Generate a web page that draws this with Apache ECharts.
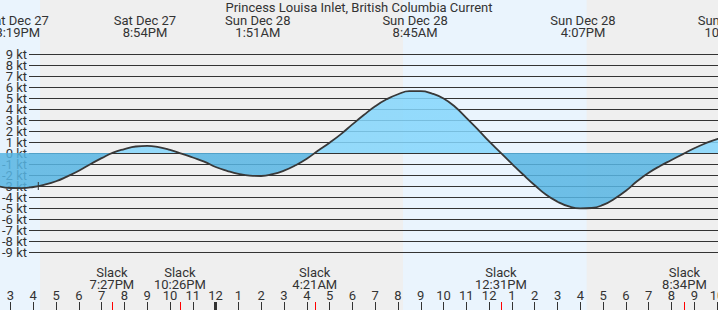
<!DOCTYPE html>
<html>
<head>
<meta charset="utf-8">
<script src="https://cdn.jsdelivr.net/npm/echarts@6/dist/echarts.min.js"></script>
<style>
html,body{margin:0;padding:0;background:#efefef;}
#chart{width:718px;height:310px;}
</style>
</head>
<body>
<div id="chart"></div>
<script>
// Time unit: hours since Sat Dec 27 00:00 (local time)
const chartTitle = 'Princess Louisa Inlet, British Columbia Current';
const viewStart = 14.54;   // ~2:32 PM Sat
const viewEnd = 46.04;     // ~10:02 PM Sun

// Current speed (kt), flood positive / ebb negative, every half hour
const currentTimes = [14.5, 15, 15.5, 16, 16.5, 17, 17.5, 18, 18.5, 19, 19.5, 20, 20.5, 21, 21.5, 22, 22.5,
  23, 23.5, 24, 24.5, 25, 25.5, 26, 26.5, 27, 27.5, 28, 28.5, 29, 29.5, 30, 30.5,
  31, 31.5, 32, 32.5, 33, 33.5, 34, 34.5, 35, 35.5, 36, 36.5, 37, 37.5, 38, 38.5,
  39, 39.5, 40, 40.5, 41, 41.5, 42, 42.5, 43, 43.5, 44, 44.5, 45, 45.5, 46, 46.5];
const currentKnots = [-3.04, -3.18, -3.19, -3.09, -2.88, -2.57, -2.12, -1.62, -1.02, -0.47, 0.04, 0.36, 0.59, 0.65, 0.53, 0.28, -0.05,
  -0.41, -0.78, -1.27, -1.62, -1.9, -2.06, -2.09, -1.93, -1.6, -1.12, -0.52, 0.22, 0.94, 1.72, 2.6, 3.45,
  4.25, 4.88, 5.34, 5.62, 5.62, 5.4, 4.95, 4.2, 3.2, 2.15, 1.05, 0.04, -0.98, -1.98, -2.93, -3.8,
  -4.43, -4.86, -5.04, -5.0, -4.72, -4.15, -3.43, -2.55, -1.8, -1.18, -0.64, -0.1, 0.43, 0.89, 1.27, 1.52];

// Max flood / ebb events (top labels)
const peakTimes = [15.317, 20.9, 25.85, 32.75, 40.117, 46.583];
const peakDates = ['Sat Dec 27', 'Sat Dec 27', 'Sun Dec 28', 'Sun Dec 28', 'Sun Dec 28', 'Sun Dec 28'];
const peakClock = ['3:19PM', '8:54PM', '1:51AM', '8:45AM', '4:07PM', '10:35PM'];

// Slack water events (bottom labels, red ticks)
const slackTimes = [19.45, 22.433, 28.35, 36.517, 44.567];
const slackClock = ['7:27PM', '10:26PM', '4:21AM', '12:31PM', '8:34PM'];

// Hour ticks along the bottom
const hourTicks = [15, 16, 17, 18, 19, 20, 21, 22, 23, 24, 25, 26, 27, 28, 29, 30,
  31, 32, 33, 34, 35, 36, 37, 38, 39, 40, 41, 42, 43, 44, 45, 46];
const hourLabels = ['3', '4', '5', '6', '7', '8', '9', '10', '11', '12', '1', '2', '3', '4', '5', '6',
  '7', '8', '9', '10', '11', '12', '1', '2', '3', '4', '5', '6', '7', '8', '9', '10'];
const midnightTicks = [24];

// Speed gridlines / labels
const ktTicks = [-9, -8, -7, -6, -5, -4, -3, -2, -1, 0, 1, 2, 3, 4, 5, 6, 7, 8, 9];
const ktLabels = ['-9 kt', '-8 kt', '-7 kt', '-6 kt', '-5 kt', '-4 kt', '-3 kt', '-2 kt', '-1 kt', '0 kt',
  '1 kt', '2 kt', '3 kt', '4 kt', '5 kt', '6 kt', '7 kt', '8 kt', '9 kt'];

// Daylight periods (sunrise, sunset)
const daylight = [[8.22, 16.30], [32.22, 40.28]];

// Current-time marker
const nowTime = [16.22];
const nowKnots = [-3.0];

// ---------- layout (pixels) ----------
const W = 718, H = 310;
const gridTopPx = 54, gridBottomPx = 252;   // rows of +9 kt and -9 kt lines
const pxPerKt = (gridBottomPx - gridTopPx) / 18;
const yMaxFull = 9 + gridTopPx / pxPerKt;
const yMinFull = -9 - (H - gridBottomPx) / pxPerKt;

const FONT = 'Roboto';
const TXT = '#333';
const POS = '#84d6fc';
const NEG = '#57b5e3';

function lookup(vals, labels, v) {
  let best = 0, bd = Infinity;
  vals.forEach((x, i) => { const d = Math.abs(x - v); if (d < bd) { bd = d; best = i; } });
  return labels[best];
}

// split labels in two alternating sets so the axis never drops any as "overlapping"
const ktOdd = ktTicks.filter((v, i) => i % 2 === 0);
const ktEven = ktTicks.filter((v, i) => i % 2 === 1);

const chart = echarts.init(document.getElementById('chart'), null, {renderer: 'svg', width: W, height: H});

const baseX = {type: 'value', min: viewStart, max: viewEnd, scale: true,
  splitLine: {show: false}, axisLine: {show: false, onZero: false}};

const ktLabelStyle = {margin: 2, fontFamily: FONT, fontSize: 13, color: TXT, lineHeight: 11,
  showMinLabel: true, showMaxLabel: true, hideOverlap: false,
  formatter: v => lookup(ktTicks, ktLabels, v)};

chart.setOption({
  backgroundColor: '#efefef',
  animation: false,
  title: {
    text: chartTitle, left: 'center', top: 1, padding: 0,
    textStyle: {fontFamily: FONT, fontSize: 13, fontWeight: 'normal', color: TXT, lineHeight: 13}
  },
  grid: [
    {left: 0, right: 0, top: 0, bottom: 0, containLabel: false, outerBoundsMode: 'none'},
    {left: 29, right: 0, top: gridTopPx, bottom: H - gridBottomPx, containLabel: false, outerBoundsMode: 'none'}
  ],
  xAxis: [
    Object.assign({}, baseX, {
      gridIndex: 0, position: 'bottom',
      axisTick: {show: true, inside: true, length: 8, customValues: hourTicks, lineStyle: {color: TXT, width: 1}},
      axisLabel: {show: true, inside: true, margin: 9, customValues: hourTicks,
        showMinLabel: true, showMaxLabel: true, hideOverlap: false,
        formatter: v => lookup(hourTicks, hourLabels, v),
        fontFamily: FONT, fontSize: 13, color: TXT, lineHeight: 11}
    }),
    Object.assign({}, baseX, {
      gridIndex: 0, position: 'bottom',
      axisTick: {show: true, inside: true, length: 8, customValues: slackTimes, lineStyle: {color: '#ff0000', width: 1}},
      axisLabel: {show: true, inside: true, margin: 20, customValues: slackTimes,
        showMinLabel: true, showMaxLabel: true, hideOverlap: false,
        formatter: v => 'Slack\n' + lookup(slackTimes, slackClock, v),
        fontFamily: FONT, fontSize: 13, color: TXT, lineHeight: 12, align: 'center'}
    }),
    Object.assign({}, baseX, {
      gridIndex: 0, position: 'bottom',
      axisTick: {show: true, inside: true, length: 8, customValues: midnightTicks, lineStyle: {color: TXT, width: 3}},
      axisLabel: {show: false}
    }),
    Object.assign({}, baseX, {gridIndex: 1, show: false})
  ],
  yAxis: [
    {type: 'value', gridIndex: 0, min: yMinFull, max: yMaxFull, scale: true, show: false, splitLine: {show: false}},
    {type: 'value', gridIndex: 1, min: -9, max: 9, interval: 1, position: 'left',
      axisLine: {show: false}, axisTick: {show: false},
      axisLabel: Object.assign({customValues: ktOdd}, ktLabelStyle),
      splitLine: {show: true, lineStyle: {color: TXT, width: 1}}
    },
    {type: 'value', gridIndex: 1, min: -9, max: 9, interval: 1, position: 'left', offset: 0,
      axisLine: {show: false}, axisTick: {show: false},
      axisLabel: Object.assign({customValues: ktEven}, ktLabelStyle),
      splitLine: {show: false}
    }
  ],
  visualMap: {
    show: false, seriesIndex: 0, dimension: 1,
    pieces: [{gte: -20, lt: 0, color: NEG}, {gte: 0, lte: 20, color: POS}]
  },
  series: [
    {
      type: 'line', xAxisIndex: 0, yAxisIndex: 0,
      data: currentTimes.map((t, i) => [t, currentKnots[i]]),
      smooth: 0.5, showSymbol: false, silent: true, z: 2,
      lineStyle: {color: '#383838', width: 1.8},
      areaStyle: {opacity: 0.85},
      markPoint: {
        silent: true, symbol: 'rect', symbolSize: [1, 8],
        itemStyle: {color: '#333'}, label: {show: false},
        data: nowTime.map((t, i) => ({coord: [t, nowKnots[i]]}))
      }
    },
    {
      type: 'line', xAxisIndex: 0, yAxisIndex: 0, z: -1, silent: true,
      data: [[viewStart, 0]], showSymbol: false, lineStyle: {width: 0, opacity: 0},
      markArea: {
        silent: true, z: -1, itemStyle: {color: '#eaf4fd'},
        data: daylight.map(d => [{xAxis: d[0]}, {xAxis: d[1]}])
      }
    }
  ]
});

const topLabels = peakTimes.map((t, i) => ({
  type: 'text', silent: true,
  x: chart.convertToPixel({xAxisIndex: 0}, t),
  y: 14,
  style: {
    text: peakDates[i] + '\n' + peakClock[i],
    align: 'center', verticalAlign: 'top',
    fontFamily: FONT, fontSize: 13, lineHeight: 12, fill: TXT
  }
}));
chart.setOption({graphic: topLabels});
</script>
</body>
</html>
